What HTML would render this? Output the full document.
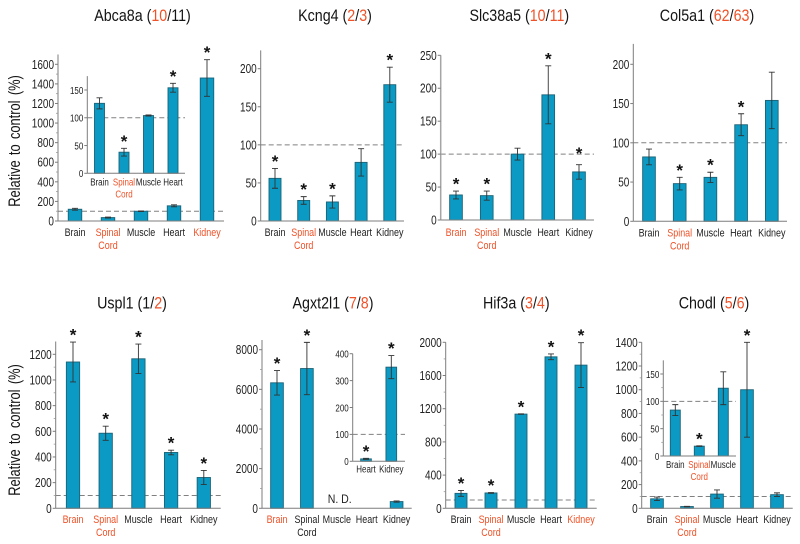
<!DOCTYPE html>
<html lang="en">
<head>
<meta charset="utf-8">
<title>Relative expression across tissues</title>
<style>
html,body{margin:0;padding:0;background:#fff;width:800px;height:544px;overflow:hidden}
svg{display:block;font-family:"Liberation Sans",Arial,sans-serif;filter:blur(.3px)}
.r{fill:#ef5228}
</style>
</head>
<body>
<svg id="chart" width="800" height="544" viewBox="0 0 800 544" xmlns="http://www.w3.org/2000/svg">
  <rect width="800" height="544" fill="#fff"/>
  <g font-size="17" fill="#141414" text-anchor="middle">
    <text transform="translate(142.5,21) scale(.84,1)">Abca8a (<tspan class="r">10</tspan>/11)</text>
    <text transform="translate(335,21) scale(.84,1)">Kcng4 (<tspan class="r">2</tspan>/<tspan class="r">3</tspan>)</text>
    <text transform="translate(519.3,21) scale(.84,1)">Slc38a5 (<tspan class="r">10</tspan>/<tspan class="r">11</tspan>)</text>
    <text transform="translate(707,21) scale(.84,1)">Col5a1 (<tspan class="r">62</tspan>/<tspan class="r">63</tspan>)</text>
    <text transform="translate(132,308.5) scale(.84,1)">Uspl1 (1/<tspan class="r">2</tspan>)</text>
    <text transform="translate(333,308.5) scale(.84,1)">Agxt2l1 (<tspan class="r">7</tspan>/<tspan class="r">8</tspan>)</text>
    <text transform="translate(516.3,308.5) scale(.84,1)">Hif3a (<tspan class="r">3</tspan>/<tspan class="r">4</tspan>)</text>
    <text transform="translate(714,308.5) scale(.84,1)">Chodl (<tspan class="r">5</tspan>/<tspan class="r">6</tspan>)</text>
  </g>
  <g font-size="16.5" fill="#141414" text-anchor="middle" word-spacing="2.2">
    <text transform="translate(20,141) rotate(-90) scale(.78,1)">Relative to control (%)</text>
    <text transform="translate(20,430) rotate(-90) scale(.78,1)">Relative to control (%)</text>
  </g>
  <text font-size="12" fill="#222" transform="translate(327.7,503) scale(.88,1)">N. D.</text>
  <g id="plots"></g>
</svg>
<script>
// ---- Category names ----
const tissues = ['Brain', 'Spinal Cord', 'Muscle', 'Heart', 'Kidney'];
const insetFourTissues = ['Brain', 'Spinal Cord', 'Muscle', 'Heart'];
const insetAgxtTissues = ['Heart', 'Kidney'];
const insetChodlTissues = ['Brain', 'Spinal Cord', 'Muscle'];

// ---- Series values (percent of control), error sizes, significance ----
const abca8aValues = [120, 35, 100, 155, 1460];
const abca8aErrors = [10, 5, 3, 10, 187];
const abca8aStars = [0, 0, 0, 0, 1];
const abca8aTicks = [0, 200, 400, 600, 800, 1000, 1200, 1400, 1600];
const abca8aRed = ['Spinal Cord', 'Kidney'];

const abca8aInsetValues = [126, 38, 104, 154];
const abca8aInsetErrors = [10, 7, 1, 8];
const abca8aInsetStars = [0, 1, 0, 1];
const abca8aInsetTicks = [0, 50, 100, 150];

const kcng4Values = [56, 27, 25, 77, 179];
const kcng4Errors = [13, 5, 8, 18, 23];
const kcng4Stars = [1, 1, 1, 0, 1];
const kcng4Ticks = [0, 50, 100, 150, 200];
const kcng4Red = ['Spinal Cord'];

const slc38a5Values = [38, 37, 100, 190, 73];
const slc38a5Errors = [6, 7, 9, 44, 11];
const slc38a5Stars = [1, 1, 0, 1, 1];
const slc38a5Ticks = [0, 50, 100, 150, 200, 250];
const slc38a5Red = ['Brain', 'Spinal Cord'];

const col5a1Values = [82, 48, 56, 123, 154];
const col5a1Errors = [10, 8, 6.5, 14, 36];
const col5a1Stars = [0, 1, 1, 1, 0];
const col5a1Ticks = [0, 50, 100, 150, 200];
const col5a1Red = ['Spinal Cord'];

const uspl1Values = [1140, 585, 1165, 435, 240];
const uspl1Errors = [155, 55, 115, 18, 55];
const uspl1Stars = [1, 1, 1, 1, 1];
const uspl1Ticks = [0, 200, 400, 600, 800, 1000, 1200];
const uspl1Red = ['Brain', 'Spinal Cord'];

const agxtValues = [6330, 7050, null, null, 340];
const agxtErrors = [620, 1320, 0, 0, 30];
const agxtStars = [1, 1, 0, 0, 0];
const agxtTicks = [0, 2000, 4000, 6000, 8000];
const agxtRed = ['Brain'];

const agxtInsetValues = [9, 350];
const agxtInsetErrors = [2, 43];
const agxtInsetStars = [1, 1];
const agxtInsetTicks = [0, 100, 200, 300, 400];

const hif3aValues = [180, 185, 1135, 1825, 1725];
const hif3aErrors = [35, 5, 3, 35, 270];
const hif3aStars = [1, 1, 1, 1, 1];
const hif3aTicks = [0, 400, 800, 1200, 1600, 2000];
const hif3aRed = ['Spinal Cord', 'Kidney'];

const chodlValues = [80, 15, 120, 1000, 115];
const chodlErrors = [15, 2, 35, 400, 15];
const chodlStars = [0, 0, 0, 1, 0];
const chodlTicks = [0, 200, 400, 600, 800, 1000, 1200, 1400];
const chodlRed = ['Spinal Cord'];

const chodlInsetValues = [84, 18, 124];
const chodlInsetErrors = [10, 0.5, 30];
const chodlInsetStars = [0, 1, 0];
const chodlInsetTicks = [0, 50, 100, 150];

// ---- Panel wiring: data arrays + frame geometry ----
const MAIN = { tickSize: 12.5, tickScale: .8, labelSize: 11.2, labelScale: .8, lineGap: 13 };
const INSET = { tickSize: 10.5, tickScale: .76, labelSize: 10.5, labelScale: .76, lineGap: 12 };

const panels = [
  { id: 'abca8a', cats: tissues, vals: abca8aValues, errs: abca8aErrors, stars: abca8aStars, ticks: abca8aTicks, red: abca8aRed, style: MAIN,
    axisX: 58, xEnd: 224, y0: 221, refV: 1600, refY: 64.3, maxV: 1700, first: 75, step: 33, barW: 13.5, labelDy: 15, minor: true, dash: true },
  { id: 'abca8a-inset', cats: insetFourTissues, vals: abca8aInsetValues, errs: abca8aInsetErrors, stars: abca8aInsetStars, ticks: abca8aInsetTicks, red: abca8aRed, style: INSET,
    axisX: 87.3, xEnd: 185, y0: 173.3, refV: 150, refY: 90, maxV: 175, first: 99.5, step: 24.5, barW: 10, labelDy: 12, minor: false, dash: true },
  { id: 'kcng4', cats: tissues, vals: kcng4Values, errs: kcng4Errors, stars: kcng4Stars, ticks: kcng4Ticks, red: kcng4Red, style: MAIN,
    axisX: 260.7, xEnd: 404, y0: 221, refV: 200, refY: 68.7, maxV: 224, first: 275, step: 28.7, barW: 12, labelDy: 15, minor: false, dash: true },
  { id: 'slc38a5', cats: tissues, vals: slc38a5Values, errs: slc38a5Errors, stars: slc38a5Stars, ticks: slc38a5Ticks, red: slc38a5Red, style: MAIN, starLift: 4, starLiftIndex: 4, axisColor: '#a5a5a5', axisWidth: 1.5,
    axisX: 440.7, xEnd: 594, y0: 220, refV: 250, refY: 55.3, maxV: 250, first: 456, step: 30.75, barW: 12.7, labelDy: 16, minor: false, dash: true },
  { id: 'col5a1', cats: tissues, vals: col5a1Values, errs: col5a1Errors, stars: col5a1Stars, ticks: col5a1Ticks, red: col5a1Red, style: MAIN,
    axisX: 633.3, xEnd: 787, y0: 221.3, refV: 200, refY: 64.3, maxV: 226, first: 649, step: 30.7, barW: 12.7, labelDy: 15, minor: false, dash: true },
  { id: 'uspl1', cats: tissues, vals: uspl1Values, errs: uspl1Errors, stars: uspl1Stars, ticks: uspl1Ticks, red: uspl1Red, style: MAIN,
    axisX: 55.7, xEnd: 220.7, y0: 508.3, refV: 1200, refY: 354.3, maxV: 1300, first: 73, step: 32.7, barW: 13.3, labelDy: 14.5, minor: true, dash: true },
  { id: 'agxt2l1', cats: tissues, vals: agxtValues, errs: agxtErrors, stars: agxtStars, ticks: agxtTicks, red: agxtRed, style: MAIN,
    axisX: 262, xEnd: 411.7, y0: 508.3, refV: 8000, refY: 349.7, maxV: 8490, first: 277, step: 29.9, barW: 12.7, labelDy: 14.5, minor: true, dash: false },
  { id: 'agxt2l1-inset', cats: insetAgxtTissues, vals: agxtInsetValues, errs: agxtInsetErrors, stars: agxtInsetStars, ticks: agxtInsetTicks, red: [], style: INSET,
    axisX: 352.7, xEnd: 405, y0: 461.3, refV: 400, refY: 353.7, maxV: 400, first: 366, step: 25.3, barW: 10.7, labelDy: 11, minor: false, dash: true },
  { id: 'hif3a', cats: tissues, vals: hif3aValues, errs: hif3aErrors, stars: hif3aStars, ticks: hif3aTicks, red: hif3aRed, style: MAIN,
    axisX: 445.7, xEnd: 596.7, y0: 508.3, refV: 2000, refY: 342.3, maxV: 2000, first: 461, step: 30, barW: 12, labelDy: 14.5, minor: true, dash: true },
  { id: 'chodl', cats: tissues, vals: chodlValues, errs: chodlErrors, stars: chodlStars, ticks: chodlTicks, red: chodlRed, style: MAIN,
    axisX: 641.7, xEnd: 792.7, y0: 508.3, refV: 1400, refY: 342.3, maxV: 1400, first: 657, step: 30, barW: 12.7, labelDy: 14.5, minor: true, dash: true },
  { id: 'chodl-inset', cats: insetChodlTissues, vals: chodlInsetValues, errs: chodlInsetErrors, stars: chodlInsetStars, ticks: chodlInsetTicks, red: chodlRed, style: INSET,
    axisX: 663.3, xEnd: 736, y0: 456, refV: 150, refY: 374, maxV: 175, first: 675.3, step: 24, barW: 10, labelDy: 12, minor: true, dash: true }
];

const NS = 'http://www.w3.org/2000/svg';
const AXIS = '#7d7d7d';
const BAR = '#0a9ac3';
const EDGE = '#1b6377';
const ERR = '#333333';
const RED = '#ef5228';
const TXT = '#222222';
const root = document.getElementById('plots');

function mk(tag, attrs, parent) {
  const n = document.createElementNS(NS, tag);
  for (const k in attrs) n.setAttribute(k, attrs[k]);
  parent.appendChild(n);
  return n;
}
function slug(s) { return s.toLowerCase().replace(/\s+/g, '-'); }

function drawPanel(p) {
  const yScale = v => p.y0 - (v / p.refV) * (p.y0 - p.refY);
  const xScale = i => p.first + i * p.step;
  const s = p.style;
  const axisColor = p.axisColor || AXIS;
  const axisWidth = p.axisWidth || 1;

  const g = mk('g', {}, root);
  
  

  if (p.dash) {
    const d = mk('line', { x1: p.axisX, x2: p.xEnd, y1: yScale(100), y2: yScale(100), stroke: '#808080', 'stroke-width': 1, 'stroke-dasharray': '5 3' }, g);
    
    
  }

  p.vals.forEach((v, i) => {
    if (v === null) return;
    const cx = xScale(i);
    const top = yScale(v);
    const tissue = slug(p.cats[i]);

    const bar = mk('rect', { x: cx - p.barW / 2, y: top, width: p.barW, height: p.y0 - top, fill: BAR, stroke: EDGE, 'stroke-width': 0.9 }, g);
    
    

    const hi = yScale(v + p.errs[i]);
    const lo = yScale(v - p.errs[i]);
    const eb = mk('path', { d: 'M' + cx + ' ' + hi + 'V' + lo + 'M' + (cx - 3) + ' ' + hi + 'H' + (cx + 3) + 'M' + (cx - 3) + ' ' + lo + 'H' + (cx + 3), stroke: ERR, 'stroke-width': 0.9, fill: 'none' }, g);
    
    

    if (p.stars[i]) {
      const lift = p.starLiftIndex === i ? p.starLift : 0;
      const st = mk('text', { 'font-size': 17, 'font-weight': 'bold', 'text-anchor': 'middle', fill: '#111', x: cx, y: hi - 1.5 - lift }, g);
      st.textContent = '*';
      
      
    }
  });

  const ya = mk('line', { x1: p.axisX, x2: p.axisX, y1: p.y0, y2: yScale(p.maxV), stroke: axisColor, 'stroke-width': axisWidth }, g);
  
  

  const xa = mk('line', { x1: p.axisX, x2: p.xEnd, y1: p.y0, y2: p.y0, stroke: AXIS, 'stroke-width': 1 }, g);
  
  

  p.ticks.forEach((t, i) => {
    const ty = yScale(t);
    const tk = mk('line', { x1: p.axisX - 3, x2: p.axisX, y1: ty, y2: ty, stroke: AXIS, 'stroke-width': 1 }, g);
    
    

    const lb = mk('text', { 'font-size': s.tickSize, 'text-anchor': 'end', fill: TXT, transform: 'translate(' + (p.axisX - 4) + ',' + (ty + s.tickSize * 0.36) + ') scale(' + s.tickScale + ',1)' }, g);
    lb.textContent = String(t);
    
    

    if (p.minor && i < p.ticks.length - 1) {
      const my = yScale((t + p.ticks[i + 1]) / 2);
      const mt = mk('line', { x1: p.axisX - 2, x2: p.axisX, y1: my, y2: my, stroke: '#999', 'stroke-width': 0.8 }, g);
      
      
    }
  });

  p.cats.forEach((c, i) => {
    const fill = p.red.includes(c) ? RED : TXT;
    c.split(' ').forEach((word, line) => {
      const ty = p.y0 + p.labelDy + line * s.lineGap;
      const t = mk('text', { 'font-size': s.labelSize, 'text-anchor': 'middle', fill: fill, transform: 'translate(' + xScale(i) + ',' + ty + ') scale(' + s.labelScale + ',1)' }, g);
      t.textContent = word;
      
      
    });
  });
}

panels.forEach(drawPanel);
</script>
</body>
</html>
